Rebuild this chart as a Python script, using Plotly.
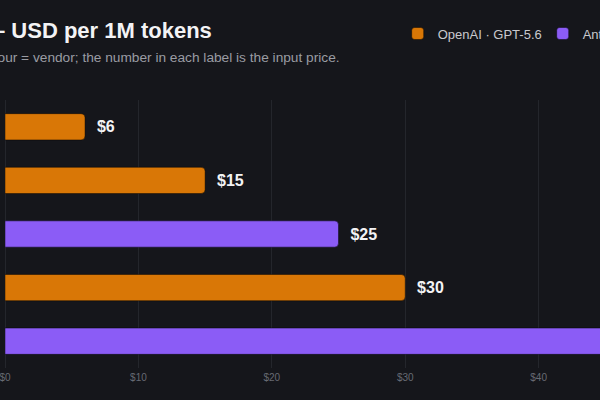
import plotly.graph_objects as go

# ---- data ----
models = ["GPT-5.6 mini", "GPT-5.6", "Claude Sonnet", "GPT-5.6 Pro", "Claude Opus"]
vendors = ["OpenAI", "OpenAI", "Anthropic", "OpenAI", "Anthropic"]
input_price = [6, 15, 25, 30, 50]
legend_names = {"OpenAI": "OpenAI · GPT-5.6", "Anthropic": "Anthropic · Claude"}
vendor_colors = {"OpenAI": "#d97706", "Anthropic": "#8b5cf6"}
x_ticks = [0, 10, 20, 30, 40]
x_tick_labels = ["$0", "$10", "$20", "$30", "$40"]

title_text = "– USD per 1M tokens"
subtitle_text = "Colour = vendor; the number in each label is the input price."

BG = "#15161b"
FONT = "Liberation Sans, Arial, sans-serif"

fig = go.Figure()
for v in ["OpenAI", "Anthropic"]:
    ys = [m for m, vv in zip(models, vendors) if vv == v]
    xs = [p for p, vv in zip(input_price, vendors) if vv == v]
    fig.add_trace(go.Bar(
        x=xs, y=ys, orientation="h", name=legend_names[v],
        marker=dict(color=vendor_colors[v], cornerradius=4,
                    line=dict(color="rgba(0,0,0,0.45)", width=1)),
        text=[f"  ${p}" for p in xs], texttemplate="%{text}",
        textposition="outside", constraintext="none",
        textfont=dict(family=FONT, size=16, color="#f3f3f5", weight="bold"),
        cliponaxis=True,
    ))

fig.update_layout(
    width=600, height=400,
    paper_bgcolor=BG, plot_bgcolor=BG,
    margin=dict(l=5, r=0, t=100, b=32, autoexpand=False),
    barmode="overlay", bargap=0.51,
    font=dict(family=FONT, color="#c9c9ce"),
    showlegend=True,
    legend=dict(orientation="h", x=0.66, xanchor="left", y=1.248, yanchor="middle",
                font=dict(size=13, color="#c9c9ce"), bgcolor="rgba(0,0,0,0)",
                entrywidth=100, entrywidthmode="pixels",
                traceorder="normal"),
    xaxis=dict(range=[0, 44.6], tickmode="array", tickvals=x_ticks, ticktext=x_tick_labels,
               tickfont=dict(size=10, color="#676a73"), ticklabelstandoff=2,
               ticklabeloverflow="allow",
               showgrid=True, gridcolor="#24262c", gridwidth=1,
               zeroline=True, zerolinecolor="#24262c", zerolinewidth=1,
               showline=False, ticks=""),
    yaxis=dict(categoryorder="array", categoryarray=models, autorange="reversed",
               showticklabels=False, showgrid=False, zeroline=False, ticks=""),
    annotations=[
        dict(text=title_text, xref="paper", yref="paper", x=0, y=1.261,
             xanchor="left", yanchor="middle", xshift=-14, showarrow=False,
             font=dict(family=FONT, size=22, color="#f3f3f5", weight="bold")),
        dict(text=subtitle_text, xref="paper", yref="paper", x=0, y=1.157,
             xanchor="left", yanchor="middle", xshift=-30, showarrow=False,
             font=dict(family=FONT, size=13.7, color="#9a9ca3")),
    ],
)

fig.write_html("out.html")
